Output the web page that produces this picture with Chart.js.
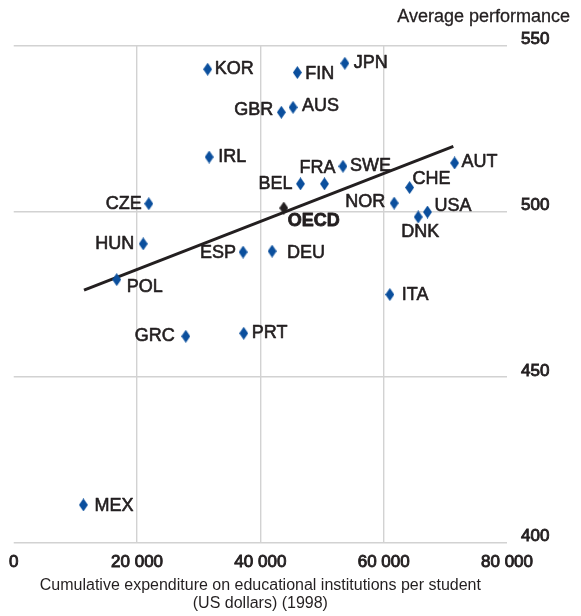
<!DOCTYPE html>
<html lang="en">
<head>
<meta charset="UTF-8">
<title>Expenditure and performance</title>
<script src="https://cdn.jsdelivr.net/npm/chart.js@4.4.0/dist/chart.umd.min.js"></script>
<style>
  body { margin: 0; background: #fff; }
</style>
</head>
<body>
<canvas id="myChart" width="581" height="616"></canvas>
<script>
// data
const countries = ["KOR", "FIN", "JPN", "GBR", "AUS", "IRL", "FRA", "SWE", "BEL", "AUT", "CHE", "CZE",
                   "NOR", "USA", "DNK", "HUN", "ESP", "DEU", "POL", "ITA", "GRC", "PRT", "MEX"];
const spending = [31450, 46000, 53700, 43400, 45300, 31700, 50400, 53400, 46500, 71500, 64200, 21900,
                  61700, 67100, 65600, 21000, 37200, 41900, 16700, 61000, 27900, 37300, 11300];
const performance = [542.9, 541.9, 544.7, 529.9, 531.4, 516.4, 508.3, 513.6, 508.3, 514.6, 507.2, 502.3,
                     502.5, 499.8, 498.3, 490.2, 487.7, 488.0, 479.4, 474.9, 462.3, 463.2, 411.4];
const oecdLabel = ["OECD"];
const oecdSpending = [43800];
const oecdPerformance = [501.0];
const trendX = [11400, 71300];
const trendY = [476.2, 519.6];
const xTicks = [0, 20000, 40000, 60000, 80000];
const yTicks = [400, 450, 500, 550];

const textColor = "#231f20";
const blue = "#0b4f9d";
const font = "Liberation Sans, Arial, sans-serif";

// label placement around each marker: dx, dy, align
const place = {
  KOR: [7, 0, "left"], FIN: [8, 1, "left"], JPN: [9, 0, "left"], GBR: [-8, -2, "right"],
  AUS: [9, -1, "left"], IRL: [9, 0, "left"], FRA: [-7, -16, "center"], SWE: [7, 0, "left"],
  BEL: [-8, 0, "right"], AUT: [7, -1, "left"], CHE: [3, -8, "left"], CZE: [-7, 0, "right"],
  NOR: [-9, -1, "right"], USA: [7, -6, "left"], DNK: [2, 15, "center"], HUN: [-9, 0, "right"],
  ESP: [-7, 1, "right"], DEU: [15, 2, "left"], POL: [10, 7, "left"], ITA: [12, 0, "left"],
  GRC: [-11, 0, "right"], PRT: [8, 0, "left"], MEX: [11, 1, "left"], OECD: [4, 13, "left"]
};

function diamond(color) {
  const c = document.createElement("canvas");
  c.width = 9; c.height = 13;
  const g = c.getContext("2d");
  g.fillStyle = color;
  g.beginPath();
  g.moveTo(4.5, 0); g.lineTo(9, 6.5); g.lineTo(4.5, 13); g.lineTo(0, 6.5);
  g.closePath();
  g.fill();
  return c;
}

function fmt(v) {
  return String(v).replace(/\B(?=(\d{3})+(?!\d))/g, " ");
}

const labelPlugin = {
  id: "pointLabels",
  afterDatasetsDraw(chart) {
    const ctx = chart.ctx;
    ctx.save();
    ctx.textBaseline = "middle";
    ctx.fillStyle = textColor;
    ctx.strokeStyle = textColor;
    ctx.lineJoin = "round";
    [[0, countries, "normal", 0.6], [1, oecdLabel, "bold", 0.8]].forEach(([di, names, w, sw]) => {
      const meta = chart.getDatasetMeta(di);
      ctx.font = w + " 18px " + font;
      ctx.lineWidth = sw;
      meta.data.forEach((pt, i) => {
        const p = place[names[i]];
        ctx.textAlign = p[2];
        ctx.fillText(names[i], pt.x + p[0], pt.y + p[1]);
        ctx.strokeText(names[i], pt.x + p[0], pt.y + p[1]);
      });
    });
    ctx.font = "18px " + font;
    ctx.textAlign = "right";
    ctx.lineWidth = 0.3;
    ctx.fillText("Average performance", 570, 17);
    ctx.strokeText("Average performance", 570, 17);
    ctx.restore();
  }
};

new Chart("myChart", {
  type: "scatter",
  data: {
    datasets: [{
      data: spending.map((v, i) => ({ x: v, y: performance[i] })),
      pointStyle: diamond(blue),
      order: 1
    }, {
      data: oecdSpending.map((v, i) => ({ x: v, y: oecdPerformance[i] })),
      pointStyle: diamond(textColor),
      order: 0
    }, {
      data: trendX.map((v, i) => ({ x: v, y: trendY[i] })),
      showLine: true,
      pointRadius: 0,
      borderColor: textColor,
      borderWidth: 3,
      order: 2
    }]
  },
  options: {
    responsive: false,
    animation: false,
    events: [],
    layout: { padding: { top: 45.7, left: 11, right: 0, bottom: 0 } },
    plugins: { legend: { display: false }, tooltip: { enabled: false } },
    scales: {
      x: {
        type: "linear",
        min: 0, max: 80000,
        afterBuildTicks: s => { s.ticks = xTicks.map(v => ({ value: v })); },
        afterFit: s => { s.height = 73.3; },
        border: { display: false },
        grid: {
          drawTicks: false,
          lineWidth: 1.4,
          color: c => (c.tick && (c.tick.value === 0 || c.tick.value === 80000)) ? "rgba(0,0,0,0)" : "#d2d2d2"
        },
        ticks: {
          padding: 9,
          maxRotation: 0,
          autoSkip: false,
          color: textColor,
          textStrokeColor: textColor,
          textStrokeWidth: 0.9,
          font: { family: font, size: 17 },
          callback: v => fmt(v)
        },
        title: {
          display: true,
          text: ["Cumulative expenditure on educational institutions per student", "(US dollars) (1998)"],
          color: textColor,
          font: { family: font, size: 16, lineHeight: 1.15 },
          padding: { top: 0, bottom: 3 }
        }
      },
      y: {
        position: "right",
        min: 400, max: 550,
        afterBuildTicks: s => { s.ticks = yTicks.map(v => ({ value: v })); },
        afterFit: s => { s.width = 74; },
        border: { display: false },
        grid: { drawTicks: false, lineWidth: 1.4, color: "#d2d2d2" },
        ticks: {
          padding: 14,
          labelOffset: -6,
          color: textColor,
          textStrokeColor: textColor,
          textStrokeWidth: 0.9,
          font: { family: font, size: 17 }
        }
      }
    }
  },
  plugins: [labelPlugin]
});
</script>
</body>
</html>
